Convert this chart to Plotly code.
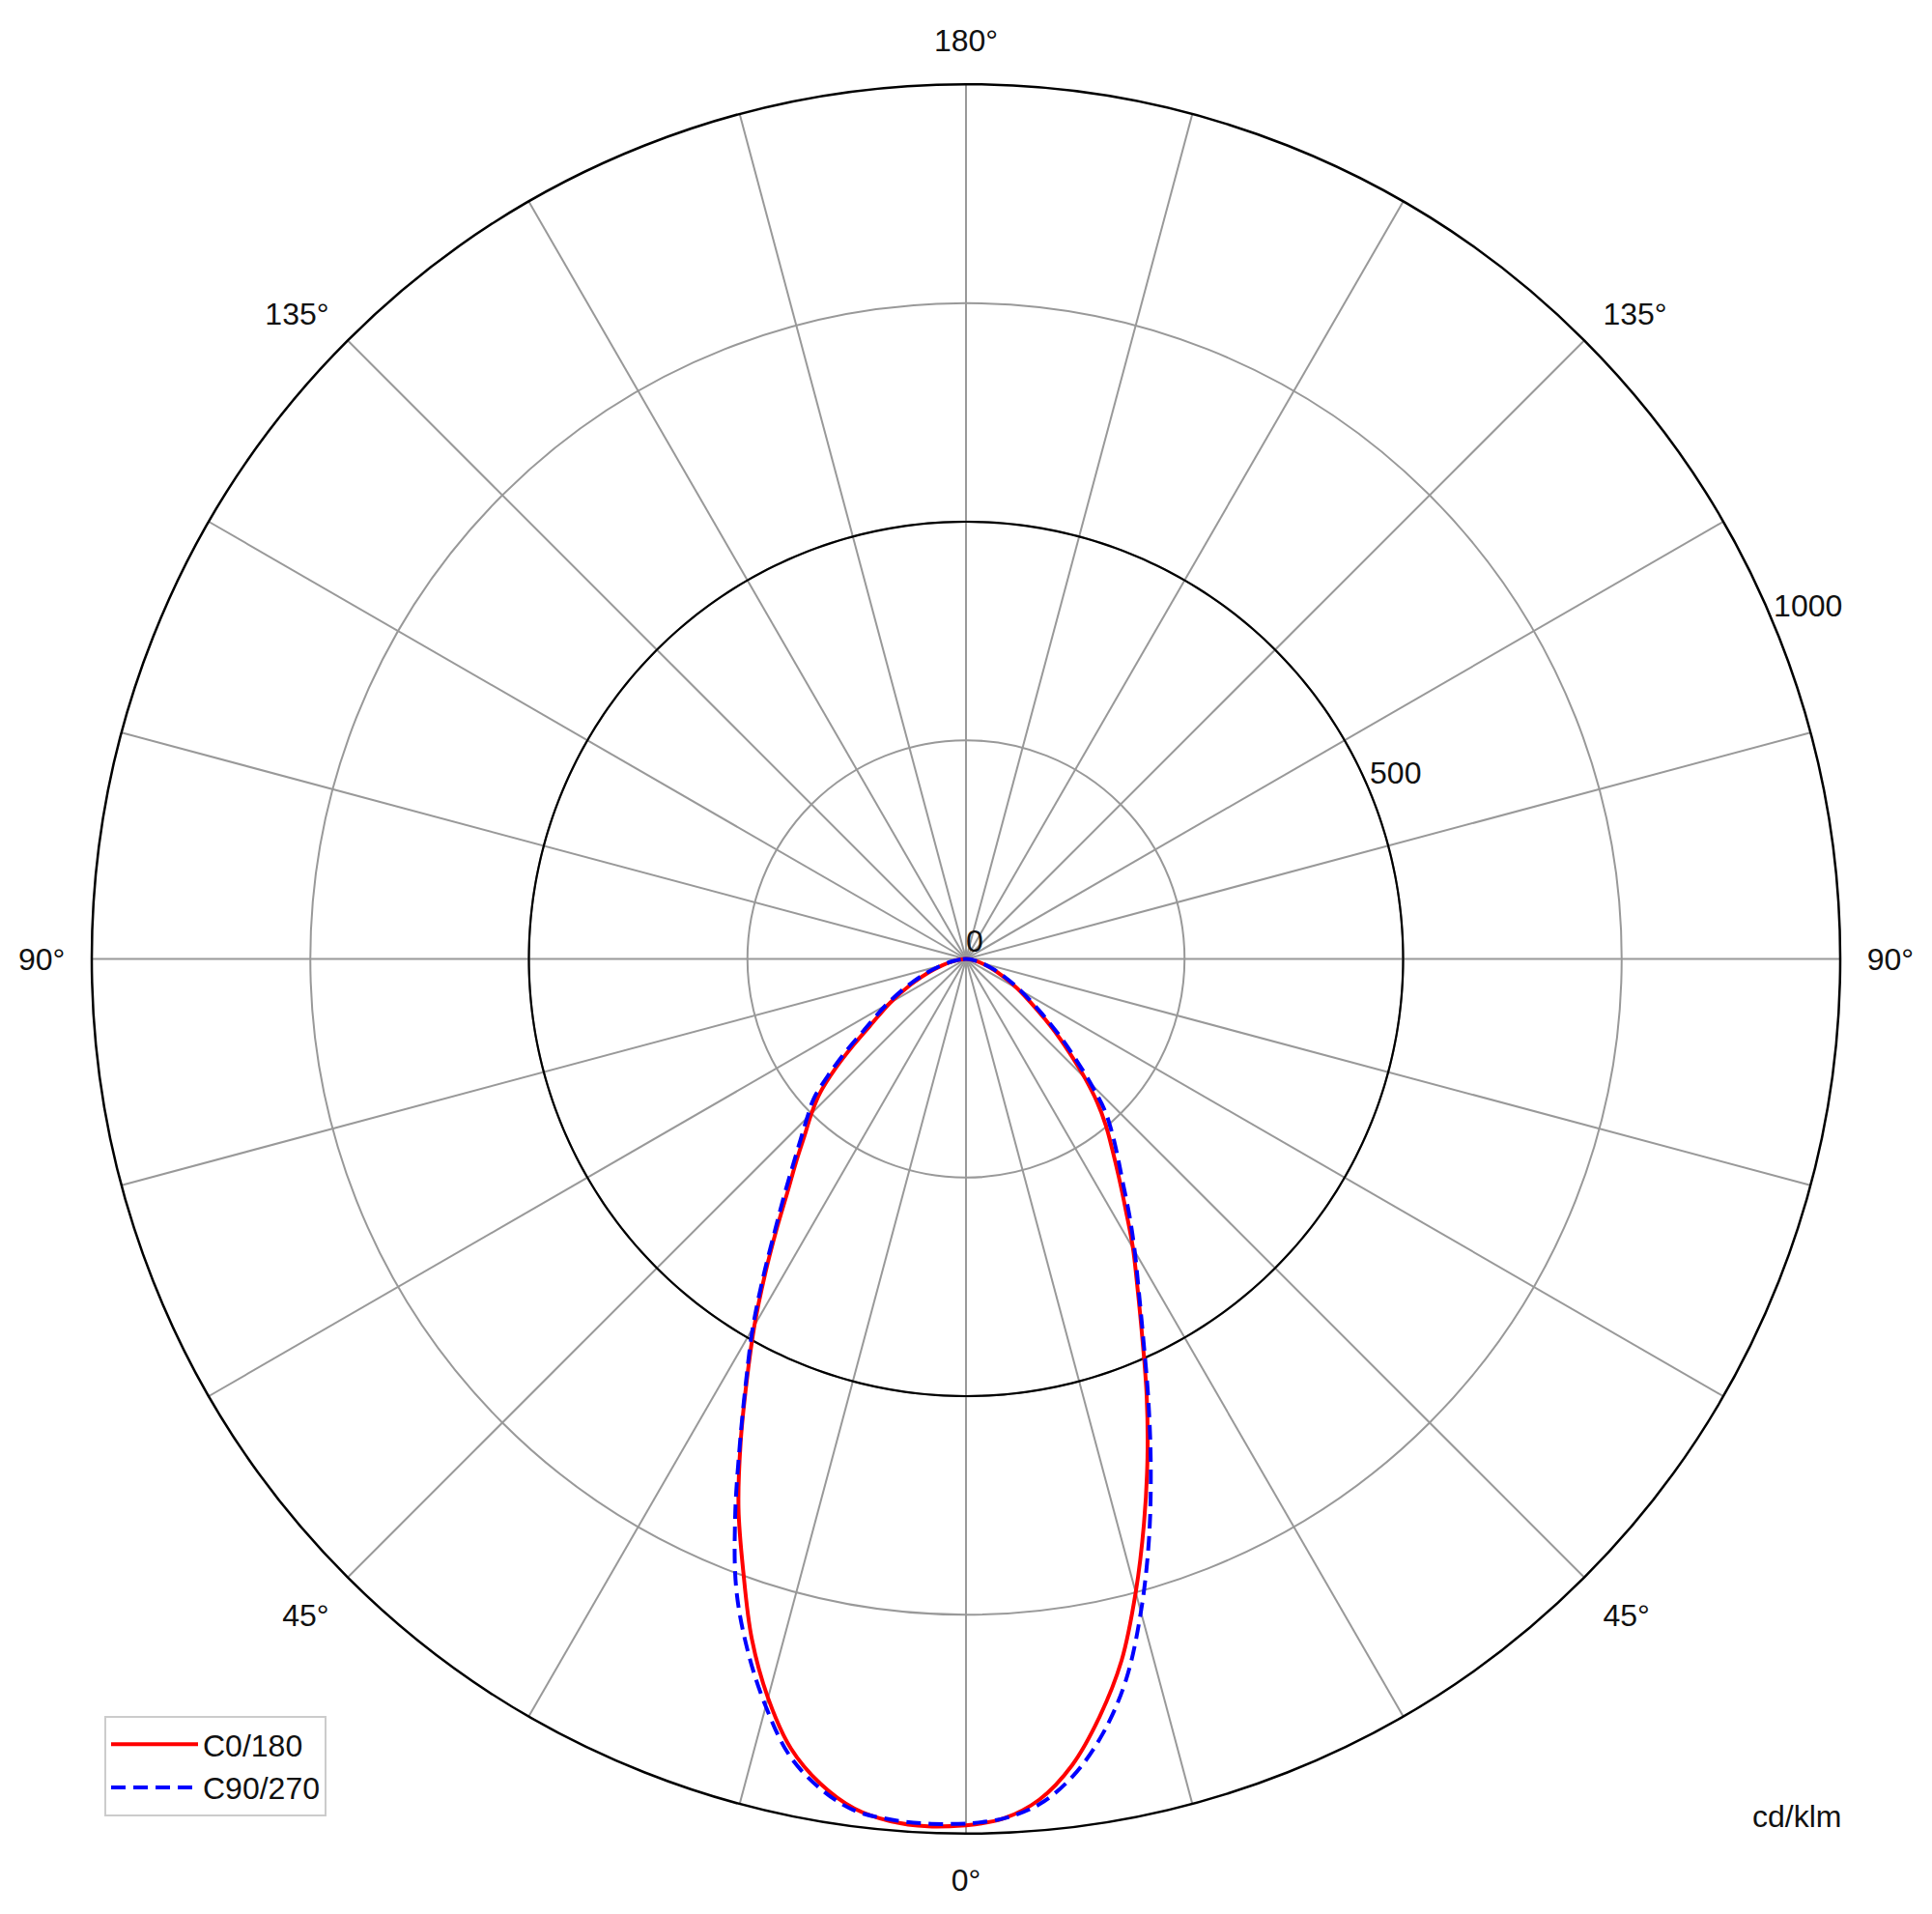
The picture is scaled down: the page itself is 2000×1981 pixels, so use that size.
import plotly.graph_objects as go

# Gamma angles (degrees from nadir)
GAMMA = [0, 2.5, 5, 7.5, 10, 12.5, 15, 17.5, 20, 22.5, 25, 27.5, 30, 32.5, 35, 37.5,
         40, 42.5, 45, 47.5, 50, 52.5, 55, 60, 65, 70, 75, 80, 85, 90]

# Luminous intensity, cd/klm
C0 = [991, 984, 965, 930, 880, 822, 750, 677, 607, 540, 477, 425, 382, 340, 305, 275,
      249, 222, 192, 163, 138, 115, 96, 68, 46, 30, 18, 9, 3, 0]
C180 = [991, 993, 990, 980, 958, 925, 875, 815, 745, 680, 610, 543, 484, 428, 378, 335,
        302, 273, 250, 226, 195, 163, 135, 100, 70, 46, 28, 15, 6, 0]
C90 = [989, 984, 970, 942, 900, 845, 773, 696, 618, 545, 480, 428, 386, 348, 313, 285,
       260, 235, 202, 171, 145, 121, 101, 72, 49, 32, 19, 10, 4, 0]
C270 = [989, 990, 988, 982, 963, 933, 885, 830, 768, 690, 612, 545, 488, 432, 382, 342,
        308, 280, 257, 236, 204, 172, 143, 106, 75, 50, 30, 16, 6, 0]

SERIES_NAMES = ["C0/180", "C90/270"]
RADIAL_TICKS = [0, 250, 500, 750, 1000]
RADIAL_LABEL_VALUES = [0, 500, 1000]
RADIAL_LABEL_THETA = 112.5   # direction of the radial labels (22.5° above the right horizontal)
ANGLE_TICKS = list(range(0, 360, 15))
MAJOR_RING = 500
UNIT = "cd/klm"

FONT = "Liberation Sans, Arial, sans-serif"
FS = 32


def closed(left, right):
    theta = [360 - g for g in reversed(GAMMA)] + GAMMA
    r = list(reversed(left)) + right
    return theta, r


def ang_label(v):
    if v % 45 != 0:
        return ""
    return f"{v if v <= 180 else 360 - v}°"


fig = go.Figure()

# black ring at the major radial value
ring_theta = list(range(0, 361))
fig.add_trace(go.Scatterpolar(
    theta=ring_theta, r=[MAJOR_RING] * len(ring_theta), mode="lines",
    line=dict(color="black", width=2.2), showlegend=False, hoverinfo="skip"))

t, r = closed(C180, C0)
fig.add_trace(go.Scatterpolar(
    theta=t, r=r, mode="lines", name=SERIES_NAMES[0],
    line=dict(color="#ff0000", width=4, shape="spline", smoothing=1.0)))

t, r = closed(C270, C90)
fig.add_trace(go.Scatterpolar(
    theta=t, r=r, mode="lines", name=SERIES_NAMES[1],
    line=dict(color="#0000ff", width=4, dash="15px,8px", shape="spline", smoothing=1.0)))

# radial value labels
fig.add_trace(go.Scatterpolar(
    theta=[RADIAL_LABEL_THETA] * len(RADIAL_LABEL_VALUES), r=RADIAL_LABEL_VALUES,
    mode="text", text=[str(v) for v in RADIAL_LABEL_VALUES], textposition="top right",
    textfont=dict(size=FS, family=FONT, color="#111111"),
    cliponaxis=False, showlegend=False, hoverinfo="skip"))

cx, cy, R = 992, 984.5, 905
W, H = 2000, 1981

fig.update_layout(
    width=W, height=H,
    template="none",
    paper_bgcolor="white",
    font=dict(family=FONT, size=FS, color="#111111"),
    margin=dict(l=0, r=0, t=0, b=0),
    polar=dict(
        domain=dict(x=[(cx - R) / W, (cx + R) / W],
                    y=[(H - cy - R) / H, (H - cy + R) / H]),
        bgcolor="white",
        angularaxis=dict(
            rotation=-90, direction="counterclockwise",
            tickmode="array", tickvals=ANGLE_TICKS,
            ticktext=[ang_label(v) for v in ANGLE_TICKS],
            showgrid=True, gridcolor="#999999", gridwidth=1.5,
            showline=True, linecolor="black", linewidth=2.5,
            ticks="outside", ticklen=20, tickcolor="rgba(0,0,0,0)",
            tickfont=dict(size=FS, family=FONT),
        ),
        radialaxis=dict(
            range=[0, 1000], angle=22.5,
            tickmode="array", tickvals=RADIAL_TICKS, showticklabels=False,
            showgrid=True, gridcolor="#999999", gridwidth=1.5,
            showline=False, ticks="",
        ),
    ),
    legend=dict(
        x=0.05, y=0.055, xanchor="left", yanchor="bottom",
        bgcolor="white", bordercolor="#cccccc", borderwidth=2,
        font=dict(size=FS, family=FONT), itemwidth=90, tracegroupgap=6,
    ),
    annotations=[dict(text=UNIT, x=0.926, y=0.055, xref="paper", yref="paper",
                      xanchor="center", yanchor="middle",
                      showarrow=False, font=dict(size=FS, family=FONT))],
)

fig.write_html("out.html")
